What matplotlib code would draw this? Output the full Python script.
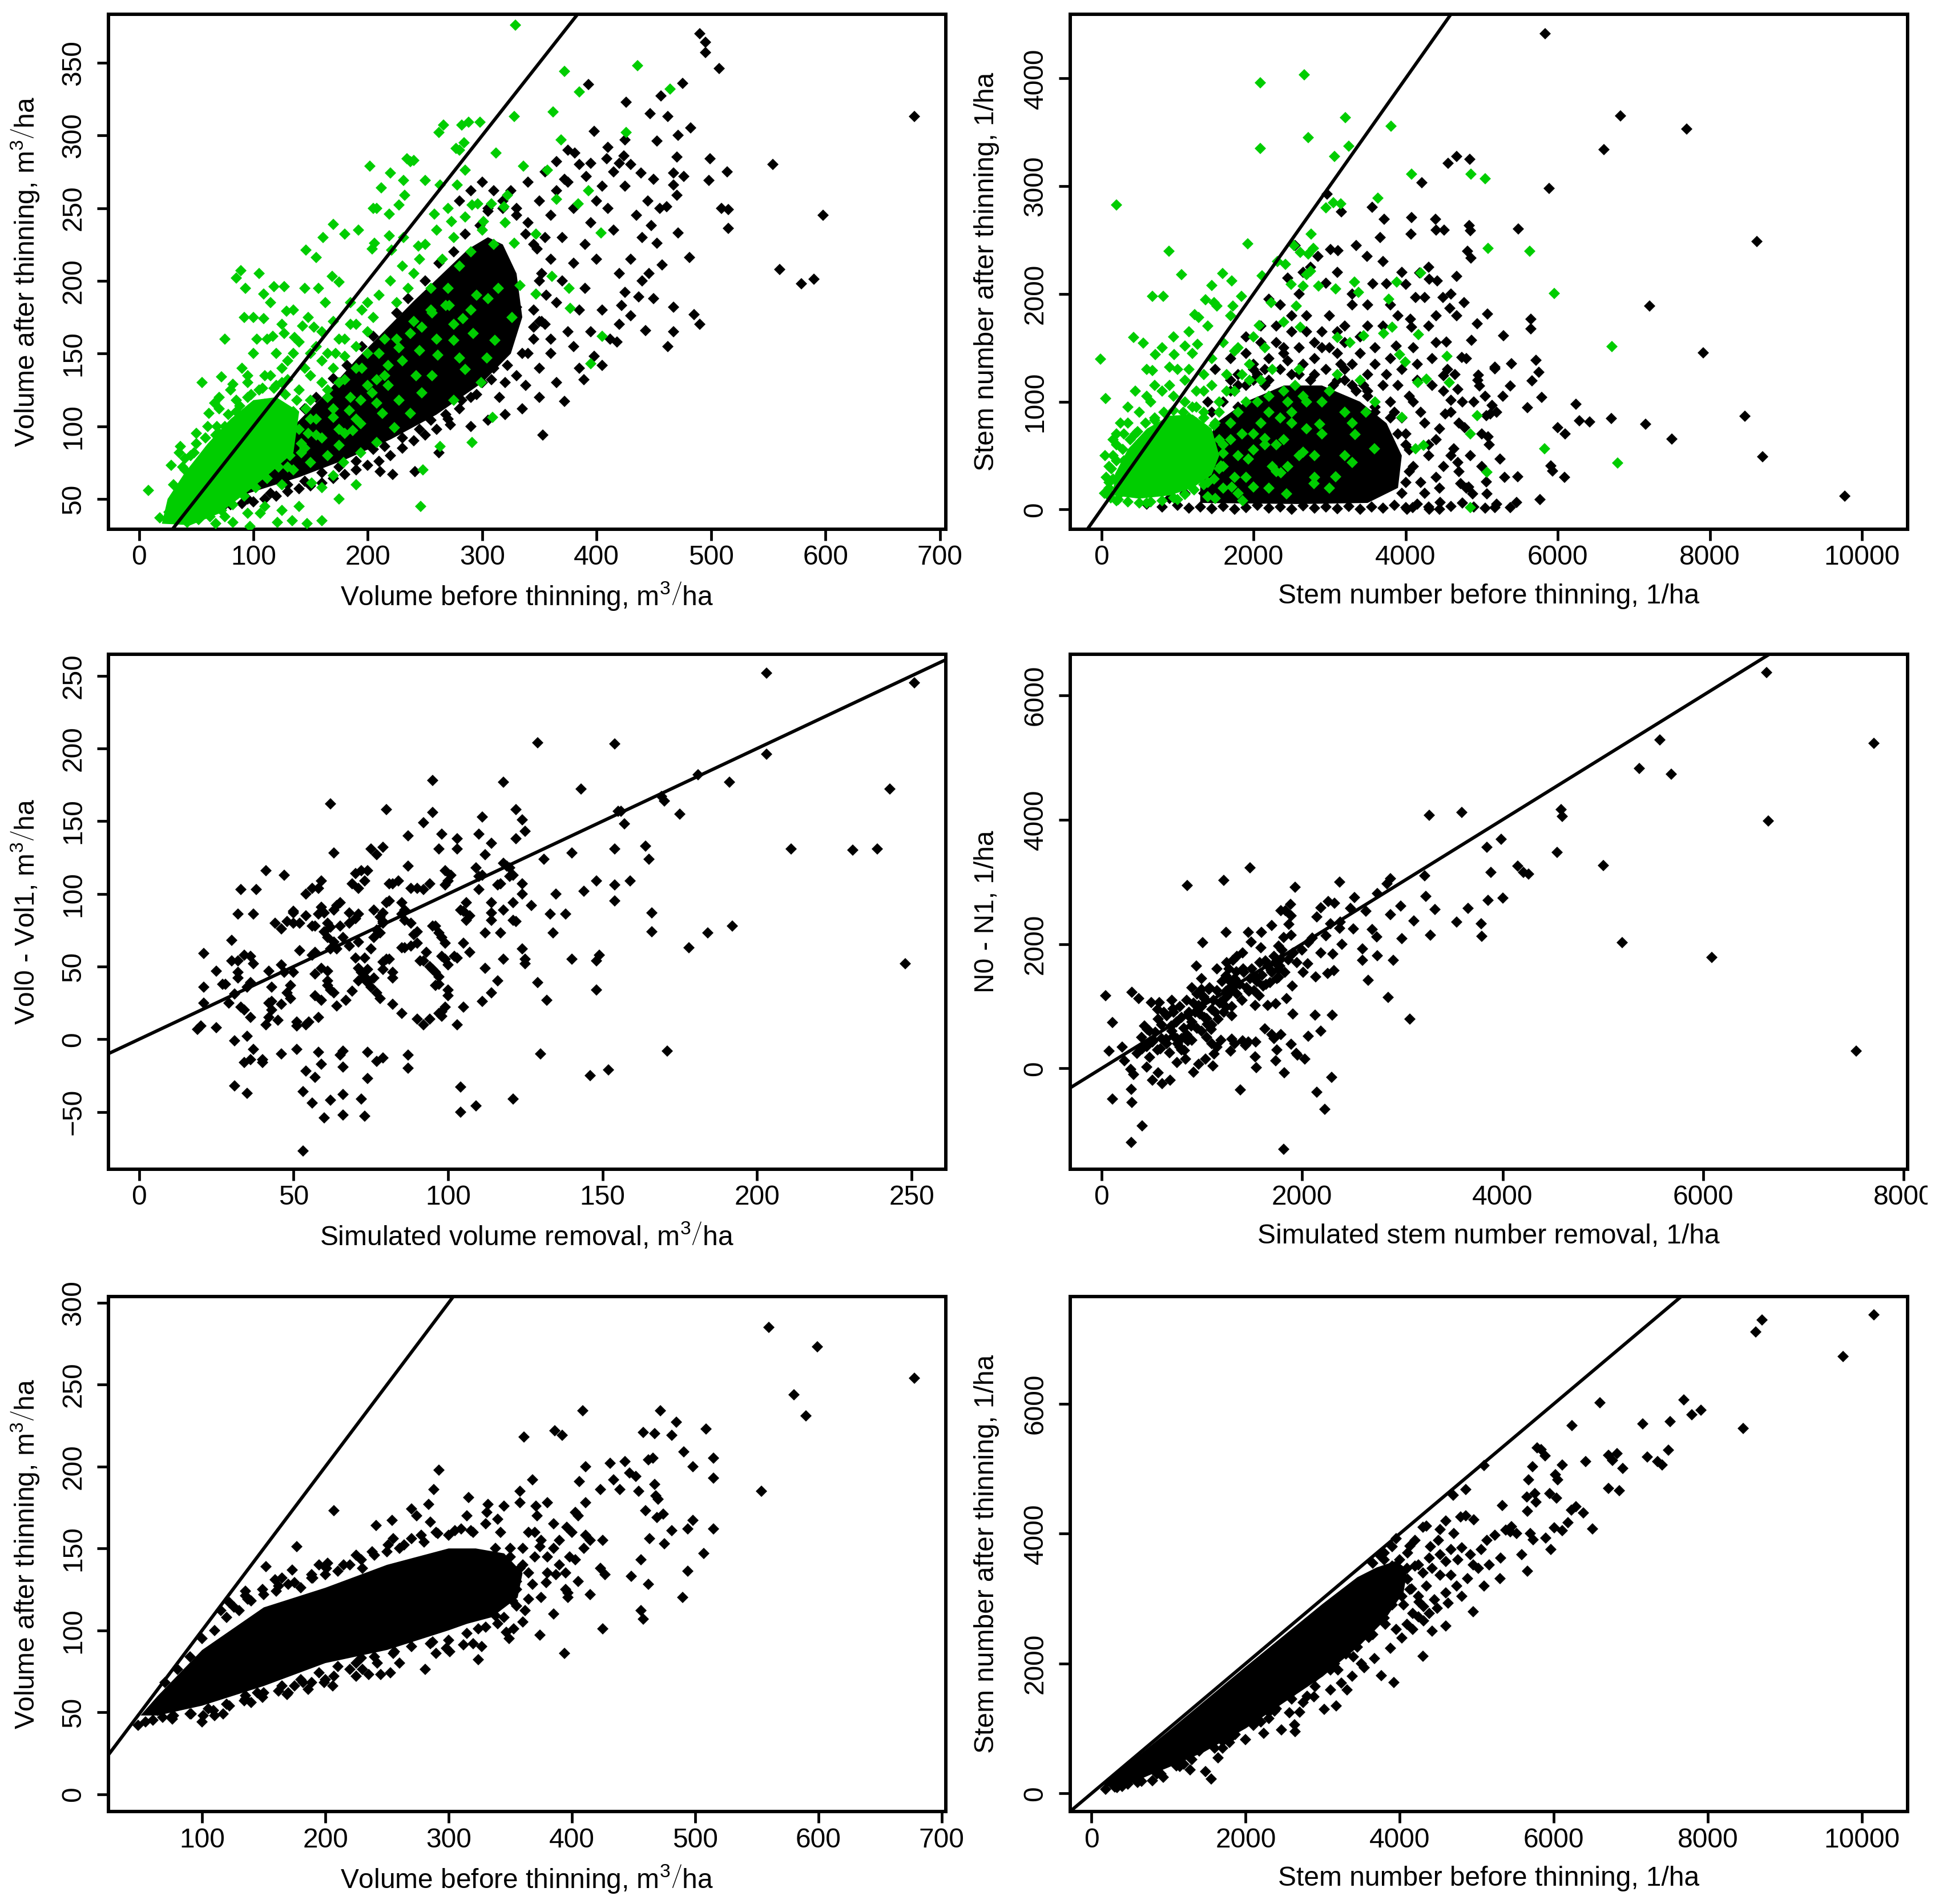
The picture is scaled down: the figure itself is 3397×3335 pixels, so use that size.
import numpy as np
import matplotlib
matplotlib.use("Agg")
import matplotlib.pyplot as plt
from matplotlib import mathtext
from matplotlib.font_manager import FontProperties
from matplotlib.transforms import Bbox, TransformedBbox

plt.rcParams["font.family"] = ["Liberation Sans", "DejaVu Sans"]
plt.rcParams["mathtext.fontset"] = "custom"
plt.rcParams["mathtext.rm"] = "Liberation Sans"
plt.rcParams["mathtext.it"] = "Liberation Sans:italic"
plt.rcParams["mathtext.bf"] = "Liberation Sans:bold"
plt.rcParams["mathtext.sf"] = "Liberation Sans"
plt.rcParams["mathtext.default"] = "regular"

GREEN = "#00CD00"
FS = 34.5

# ---- panel 1: volume before / after thinning (black = observed, green = simulated)
vol1_black_core = [(72, 48), (100, 55), (140, 65), (180, 77), (220, 91), (260, 108), (300, 130), (325, 150),
                   (335, 175), (330, 205), (318, 225), (305, 230), (288, 222), (264, 204), (240, 186), (215, 166),
                   (190, 146), (165, 124), (140, 104), (115, 84), (90, 66), (74, 55)]
vol1_black = [(490, 370), (495, 364), (495, 357), (507, 346), (393, 335), (475, 336), (426, 323), (456, 327),
              (447, 315), (462, 313), (482, 305), (398, 303), (425, 297), (453, 296), (471, 300), (678, 313),
              (499, 284), (470, 285), (554, 280), (514, 275), (498, 269), (439, 274), (467, 274), (476, 272),
              (470, 259), (467, 266), (509, 250), (515, 249), (598, 245), (515, 236), (461, 251), (471, 233),
              (481, 216), (560, 208), (579, 198), (590, 201), (457, 211), (446, 205), (453, 226), (448, 238),
              (437, 189), (450, 188), (422, 183), (430, 176), (467, 182), (485, 177), (490, 170), (443, 166),
              (467, 165), (418, 158), (462, 155), (389, 132), (372, 117), (353, 94), (338, 128), (315, 120),
              (272, 101), (262, 82), (241, 69), (222, 67), (211, 69), (424, 286), (420, 281), (409, 284),
              (395, 281), (381, 288), (391, 272), (372, 270), (330, 250), (340, 240), (350, 255), (355, 230),
              (360, 245), (345, 225), (350, 200), (360, 215), (370, 230), (380, 250), (375, 268), (365, 262),
              (355, 275), (340, 268), (325, 262), (318, 255), (305, 250), (345, 180), (355, 170), (365, 185),
              (370, 200), (380, 212), (390, 225), (395, 240), (400, 255), (405, 265), (410, 250), (415, 235),
              (400, 215), (390, 195), (385, 180), (375, 165), (360, 150), (350, 140), (340, 150), (330, 135),
              (320, 130), (310, 140), (300, 130), (290, 120), (280, 112), (270, 105), (260, 98), (250, 94),
              (240, 90), (230, 85), (220, 80), (210, 76), (200, 73), (190, 70), (180, 67), (170, 64), (160, 61),
              (150, 59), (140, 57), (130, 55), (120, 52), (110, 50), (100, 48), (90, 47), (80, 46), (70, 45),
              (300, 268), (310, 262), (290, 262), (280, 255), (420, 205), (430, 215), (440, 230), (435, 245),
              (445, 255), (425, 265), (415, 275), (430, 280), (410, 292), (385, 280), (375, 290), (365, 282),
              (450, 270), (455, 250), (440, 200), (425, 192), (405, 180), (395, 165), (380, 155), (420, 170),
              (412, 160), (398, 148), (385, 140), (405, 142), (365, 130), (350, 120), (335, 112), (320, 108),
              (305, 104), (290, 100), (360, 160), (345, 168), (330, 182), (315, 195)]
vol1_black_edge = [(80, 66), (95, 75), (105, 80), (120, 92), (130, 100), (145, 112), (155, 120), (170, 133),
                   (182, 142), (195, 155), (205, 162), (225, 178), (235, 188), (250, 200), (262, 212), (275, 220),
                   (285, 232), (298, 238), (305, 248), (318, 250), (330, 245), (338, 232), (348, 222), (352, 205),
                   (356, 190), (350, 172), (75, 46), (95, 50), (115, 54), (130, 60), (145, 62), (160, 68),
                   (175, 72), (190, 76), (205, 84), (215, 86), (230, 92), (245, 98), (255, 104), (268, 108),
                   (282, 118), (295, 122), (308, 132), (322, 142), (335, 150), (345, 160), (352, 172)]
vol1_green_core = [(20, 33), (45, 32), (70, 40), (95, 55), (115, 68), (135, 82), (140, 110), (120, 120),
                   (100, 118), (80, 105), (60, 88), (40, 68), (25, 50)]
vol1_green = [(329, 376), (436, 348), (372, 344), (464, 332), (385, 330), (362, 316), (328, 313), (369, 297),
              (426, 302), (266, 307), (262, 302), (282, 307), (288, 309), (298, 309), (284, 295), (277, 291),
              (280, 290), (312, 288), (234, 284), (237, 282), (240, 283), (202, 279), (285, 276), (220, 274),
              (231, 269), (250, 269), (212, 264), (263, 266), (278, 266), (336, 279), (357, 276), (393, 262),
              (365, 256), (232, 259), (205, 250), (208, 250), (227, 252), (219, 246), (258, 246), (192, 235),
              (180, 232), (170, 239), (161, 230), (146, 221), (155, 216), (206, 226), (204, 222), (219, 231),
              (221, 221), (231, 230), (244, 224), (273, 241), (285, 244), (301, 241), (291, 252), (296, 253),
              (308, 253), (319, 251), (85, 202), (89, 207), (93, 195), (109, 191), (118, 196), (127, 196),
              (145, 195), (157, 195), (163, 185), (169, 203), (175, 199), (92, 175), (100, 175), (109, 174),
              (129, 179), (143, 169), (103, 160), (117, 162), (127, 164), (136, 161), (153, 168), (72, 134),
              (82, 129), (95, 135), (66, 116), (61, 109), (67, 94), (36, 86), (35, 82), (28, 73), (8, 56),
              (18, 37), (26, 41), (246, 45), (160, 35), (147, 33), (134, 35), (121, 34), (106, 40), (97, 31),
              (82, 34), (67, 33), (291, 89), (309, 106), (263, 86), (248, 70), (395, 143), (405, 162), (376, 195),
              (361, 203), (377, 181), (347, 191), (404, 233), (384, 253), (322, 259), (347, 232), (328, 226),
              (208, 132), (218, 142), (227, 154), (237, 164), (247, 168), (256, 178), (271, 183), (283, 174),
              (292, 164), (280, 147), (299, 130), (275, 118), (256, 135), (247, 123), (237, 109), (223, 99),
              (208, 89), (194, 82), (179, 75), (170, 66), (160, 58), (151, 61), (142, 82), (155, 94), (170, 106),
              (184, 111), (194, 118), (204, 123), (187, 97), (175, 87), (194, 102), (213, 109), (227, 118),
              (242, 135), (261, 149), (275, 159), (268, 183), (295, 190), (314, 195), (333, 197), (326, 175),
              (311, 159), (304, 147), (285, 139), (218, 128), (208, 116), (120, 150), (130, 145), (140, 158),
              (150, 150), (160, 145), (172, 150), (180, 160), (190, 170), (200, 185), (185, 185), (170, 172),
              (160, 165), (148, 175), (135, 180), (125, 170), (112, 160), (100, 150), (90, 140), (80, 125),
              (70, 120), (60, 100), (50, 95), (45, 80), (40, 70), (115, 185), (105, 205), (75, 160), (55, 130),
              (190, 140), (200, 150), (175, 130), (165, 120), (180, 95), (165, 80), (150, 75), (135, 70),
              (125, 60), (110, 45), (95, 40), (75, 38), (55, 40), (40, 45), (30, 50), (125, 42), (140, 45),
              (175, 50), (190, 60), (60, 75), (65, 85), (70, 95), (75, 100), (80, 90), (85, 110), (90, 100),
              (95, 120), (100, 110), (105, 125), (110, 115), (115, 135), (120, 128), (125, 140), (130, 132),
              (135, 150), (140, 125), (145, 140), (150, 135), (155, 155), (160, 130), (165, 150), (170, 140),
              (175, 160), (180, 148), (185, 170), (190, 155), (195, 180), (200, 165), (205, 175), (210, 190),
              (215, 160), (220, 200), (225, 185), (230, 210), (235, 195), (240, 205), (245, 215), (250, 225),
              (255, 195), (260, 235), (265, 215), (270, 250), (275, 230), (280, 210), (290, 220), (300, 235),
              (310, 225), (320, 240), (105, 95), (120, 100), (135, 110), (150, 118), (165, 125), (180, 132),
              (195, 140), (210, 150), (225, 160), (240, 172), (255, 180), (270, 195), (90, 80), (75, 70),
              (110, 85), (125, 92), (140, 98), (155, 105), (170, 112), (185, 120), (200, 128), (215, 135),
              (230, 145), (245, 152), (260, 160), (275, 170), (290, 180), (305, 188), (45, 60), (50, 70),
              (55, 55), (35, 55), (30, 42), (60, 45), (85, 60), (100, 70), (115, 78), (130, 72), (145, 85),
              (160, 92), (175, 98), (190, 105)]
vol1_green_edge = [(30, 60), (38, 72), (48, 82), (58, 92), (68, 100), (78, 108), (88, 114), (98, 122), (108, 126),
                   (118, 126), (128, 122), (138, 118), (146, 112), (150, 105), (148, 95), (142, 88), (132, 80),
                   (122, 72), (112, 64), (102, 58), (92, 52), (82, 46), (72, 42), (62, 38), (52, 36), (42, 34),
                   (32, 36), (85, 118), (95, 130), (110, 135), (125, 130), (70, 112), (50, 88), (40, 78)]

# ---- panel 2: stem number before / after thinning
stem1_black_core = [(1300, 60), (2600, 50), (3500, 60), (3900, 200), (3950, 500), (3750, 800), (3400, 1000),
                    (2900, 1150), (2400, 1150), (1900, 1000), (1500, 800), (1300, 400)]
stem1_black = [(5836, 4413), (6823, 3655), (7695, 3532), (6607, 3342), (5886, 2977), (8617, 2484), (7205, 1887),
               (7911, 1452), (9777, 123), (8696, 490), (8458, 865), (7500, 652), (7154, 790), (6707, 845),
               (6239, 974), (6095, 700), (6001, 758), (6282, 823), (6419, 813), (6088, 297), (5793, 1039),
               (5749, 1274), (5713, 1387), (5663, 1194), (5605, 945), (5476, 306), (5461, 65), (5375, 16),
               (5908, 403), (5929, 355), (5764, 90), (5483, 2603), (5648, 1765), (5648, 1677), (5288, 1613),
               (5389, 1355), (5173, 1323), (5115, 887), (5086, 677), (5245, 468), (5173, 16), (4560, 3210),
               (4669, 3274), (4841, 3252), (4215, 3032), (3559, 2806), (3718, 2694), (4078, 2710), (4070, 2558),
               (3667, 2523), (4395, 2694), (4402, 2590), (4510, 2590), (4834, 2635), (4849, 2587), (4813, 2397),
               (4856, 2332), (3494, 2348), (2968, 2929), (3156, 2761), (3012, 2413), (3112, 2403), (4301, 2248),
               (4186, 2194), (4308, 2135), (4416, 2119), (4669, 2161), (4006, 2087), (3746, 2097), (3566, 2097),
               (4128, 1968), (4251, 1968), (4488, 1968), (4769, 1919), (5079, 1816), (4942, 1726), (4669, 1797),
               (4582, 1865), (4063, 1765), (4078, 1694), (3876, 1516), (4539, 1555), (4870, 1571), (4741, 1410),
               (4957, 1248), (5173, 1306), (4971, 1145), (5050, 1048), (5137, 968), (5065, 871), (5281, 1048),
               (5375, 1145), (4496, 1242), (4683, 1113), (4597, 1016), (4524, 887), (4777, 758), (4632, 565),
               (4683, 435), (4827, 210), (4885, 145), (4726, 242), (4452, 65), (4308, 0), (4092, 16), (4020, 0),
               (5072, 145), (5065, 258), (600, 50), (800, 20), (1000, 40), (1150, 10), (1300, 20), (1450, 5),
               (1600, 30), (1750, 0), (1900, 15), (2050, 40), (2200, 10), (2350, 25), (2500, 0), (2650, 35),
               (2800, 10), (2950, 20), (3100, 5), (3250, 30), (3400, 0), (3550, 20), (3700, 10), (3850, 40),
               (4000, 15), (4150, 50), (4300, 20), (4450, 0), (4600, 30), (4750, 60), (4900, 20), (5050, 10),
               (5200, 50), (4000, 700), (4100, 400), (4200, 900), (4300, 600), (4400, 300), (4500, 1100),
               (4600, 500), (4700, 800), (4800, 200), (4900, 1000), (5000, 400), (4150, 1200), (4350, 1400),
               (4050, 1050), (3950, 1300), (4250, 150), (4450, 750), (4650, 1250), (4100, 1500), (4300, 1700),
               (3900, 1800), (4400, 1550), (1500, 1300), (1700, 1400), (1900, 1600), (2100, 1700), (2300, 1550),
               (2500, 1800), (2700, 1650), (2900, 1500), (3100, 1450), (3300, 1350), (3500, 1250), (3700, 1150),
               (2200, 1950), (2600, 2000), (3000, 1800), (3400, 1600), (2400, 1500), (2800, 1400), (3200, 1700),
               (3600, 1500), (2000, 1300), (1800, 1150), (2450, 2150), (2750, 2250), (2950, 2100), (3300, 2000),
               (3500, 1900), (3700, 2300), (3350, 2450), (2850, 2350), (2550, 2450), (3800, 1900), (3950, 2200),
               (1200, 300), (1300, 500), (1250, 800), (1400, 1000), (1350, 150), (900, 100), (1100, 150)]
stem1_black_edge = [(4200, 250), (4300, 500), (4250, 800), (4100, 1000), (3900, 1150), (4400, 650), (4500, 400),
                    (4600, 900), (4350, 1150), (4150, 1350), (3800, 1400), (3600, 1350), (3400, 1450),
                    (3200, 1550), (3000, 1500), (2800, 1550), (2600, 1500), (2400, 1450), (2200, 1400),
                    (2000, 1350), (1800, 1250), (2900, 1650), (2500, 1650), (3100, 1650), (3500, 1700),
                    (2700, 1800), (2300, 1700), (2100, 1550), (1900, 1450), (4450, 200), (4700, 350), (4850, 500),
                    (4550, 1300), (4750, 1000), (5000, 700), (5200, 900), (5300, 300), (5100, 600), (4950, 1200),
                    (4800, 1400), (4400, 1800), (4600, 2000), (3700, 1700), (3300, 1900), (3100, 2200),
                    (2650, 2200), (2350, 1900), (3950, 150), (4050, 550), (3850, 900), (3500, 1100), (3100, 1200),
                    (2600, 1250), (2150, 1150), (1800, 950), (1600, 700), (1500, 450), (1550, 150), (3600, 950),
                    (3950, 850), (3750, 1250), (3300, 1150), (1700, 1100), (2000, 1200), (2800, 1250), (3200, 1300),
                    (1350, 650), (1450, 900), (1600, 1000), (1750, 1100), (1900, 1150), (2050, 1250), (2200, 1200),
                    (2350, 1300), (2500, 1250), (2650, 1350), (2750, 1200), (2950, 1300), (3050, 1150), (3200, 1200),
                    (3350, 1100), (3500, 1050), (3600, 900), (3800, 850), (3900, 700), (4000, 600), (4050, 350),
                    (4000, 250), (3800, 1000), (3450, 1150), (3150, 1350), (2450, 1380), (2150, 1300), (1700, 1200),
                    (1250, 600), (1220, 450)]
stem1_green_core = [(150, 130), (500, 100), (900, 130), (1200, 200), (1450, 320), (1550, 500), (1450, 750),
                    (1200, 880), (900, 870), (600, 750), (350, 560), (180, 330)]
stem1_green = [(2666, 4032), (2089, 3961), (2089, 3352), (2723, 3452), (3206, 3635), (3811, 3558), (3256, 3371),
               (3062, 3274), (202, 2826), (4078, 3113), (4856, 3113), (5043, 3071), (3638, 2887), (2954, 2797),
               (3048, 2845), (3148, 2839), (5086, 2423), (5634, 2397), (5958, 2006), (6715, 1510), (6787, 429),
               (5829, 565), (5072, 345), (4849, 700), (4942, 871), (4849, 16), (1924, 2465), (886, 2394),
               (1052, 2177), (670, 1977), (814, 1977), (1455, 2081), (1592, 2190), (1715, 2119), (1369, 1945),
               (1484, 1919), (1729, 1887), (1844, 1977), (2111, 2168), (2313, 2300), (2421, 2274), (2536, 2448),
               (2615, 2387), (2759, 2555), (2788, 2423), (2723, 2371), (2695, 2177), (2752, 2213), (2651, 2071),
               (2853, 2071), (2493, 2087), (3084, 2048), (3329, 2113), (3379, 2016), (3883, 2113), (4200, 2194),
               (3782, 1952), (3826, 1694), (4171, 1623), (-14, 1394), (58, 1029), (425, 1597), (548, 1542),
               (706, 1435), (958, 1435), (1102, 1516), (1268, 1532), (670, 1290), (900, 1323), (1153, 1300),
               (1225, 1806), (1282, 1784), (1520, 1887), (1751, 1468), (2075, 1710), (2233, 1919), (2399, 1742),
               (2565, 1887), (2615, 1694), (3105, 1597), (3271, 1548), (3451, 1613), (3710, 1635), (3919, 1435),
               (3998, 1371), (4164, 1177), (4546, 1419), (4575, 1177), (4272, 1210), (3948, 855), (4128, 565),
               (4236, 597), (3336, 694), (3480, 903), (3588, 565), (3300, 435), (3084, 306), (2867, 790),
               (2651, 532), (2795, 242), (2435, 145), (2363, 339), (2147, 661), (1931, 468), (2003, 210),
               (1859, 81), (1715, 210), (1571, 403), (1600, 600), (1700, 800), (1800, 500), (1900, 1000),
               (2000, 700), (2100, 1200), (2200, 900), (2300, 600), (2400, 1100), (2500, 800), (2600, 1300),
               (1650, 1100), (1750, 300), (1550, 900), (1450, 1150), (1350, 1250), (2250, 400), (2450, 1000),
               (2700, 1000), (2900, 700), (3000, 1100), (3200, 900), (2800, 500), (3400, 1200), (3600, 1000),
               (1950, 1350), (2150, 1500), (1850, 1250), (1250, 1100), (1100, 1000), (950, 1050), (800, 1100),
               (650, 1000), (500, 900), (350, 800), (300, 700), (200, 600), (150, 500), (100, 400), (100, 200),
               (250, 150), (1600, 200), (1500, 100), (1400, 250), (1200, 200), (1300, 350), (1400, 600),
               (1500, 800), (1600, 400), (1700, 650), (1800, 900), (1900, 300), (2000, 550), (2100, 800),
               (2200, 1050), (2300, 350), (2400, 650), (2500, 900), (2600, 500), (2700, 750), (1250, 950),
               (1350, 1100), (1550, 1000), (1650, 1250), (1750, 1100), (1850, 700), (1950, 1200), (2050, 1000),
               (2150, 600), (2250, 1300), (2350, 850), (2450, 400), (2550, 1150), (2650, 1050), (1150, 700),
               (1050, 500), (950, 300), (850, 550), (750, 750), (650, 450), (1100, 1200), (1000, 1300),
               (900, 1150), (700, 1150), (600, 1050), (1450, 1400), (1600, 1550), (1200, 1450), (1800, 1500),
               (2000, 1600), (1700, 1800), (1400, 1700), (1150, 1650), (950, 1600), (800, 1500), (600, 1300),
               (450, 1100), (350, 950), (250, 800), (200, 700), (150, 650), (50, 500), (60, 300), (40, 150),
               (200, 80), (600, 60), (1000, 90), (2800, 300), (3000, 200), (3200, 500), (2900, 1000), (3100, 1250),
               (3300, 800), (2200, 200), (1800, 150), (1400, 120), (1300, 700), (1150, 850), (950, 800), (700, 850),
               (450, 700), (300, 450), (150, 280), (1250, 450), (1350, 900)]
stem1_green_edge = [(100, 250), (130, 380), (200, 450), (280, 560), (380, 650), (480, 720), (580, 800), (700, 830),
                    (820, 900), (950, 920), (1080, 900), (1200, 950), (1350, 850), (1480, 780), (1550, 650),
                    (1600, 520), (1550, 380), (1480, 280), (1350, 230), (1220, 180), (1100, 140), (950, 110),
                    (800, 80), (650, 70), (500, 60), (350, 70), (220, 90), (120, 110), (80, 170)]

# ---- panel 3: simulated volume removal vs observed Vol0 - Vol1
vol_removal = [(203, 252), (251, 245), (129, 204), (154, 203), (203, 196), (181, 182), (191, 177), (243, 172),
               (143, 172), (170, 164), (169, 167), (175, 155), (155, 157), (156, 157), (157, 148), (118, 177),
               (95, 178), (62, 162), (80, 158), (95, 156), (111, 153), (122, 158), (124, 151), (125, 143),
               (122, 138), (92, 149), (87, 140), (98, 141), (103, 138), (103, 131), (110, 141), (114, 135),
               (112, 127), (97, 131), (75, 131), (77, 127), (79, 132), (63, 128), (140, 128), (131, 124),
               (164, 133), (165, 124), (211, 131), (231, 130), (239, 131), (154, 131), (159, 109), (154, 106),
               (154, 95), (148, 109), (144, 102), (135, 100), (138, 86), (133, 86), (134, 73), (166, 87),
               (166, 74), (192, 78), (184, 73), (178, 63), (140, 55), (149, 58), (148, 54), (148, 34), (248, 52),
               (132, 27), (129, 39), (171, -8), (130, -10), (146, -25), (152, -21), (104, -33), (104, -50),
               (109, -46), (121, -41), (53, -77), (60, -54), (66, -52), (73, -53), (72, -41), (62, -42), (56, -44),
               (53, -36), (66, -38), (35, -37), (31, -32), (74, -27), (87, -20), (87, -11), (77, -15), (79, -13),
               (74, -9), (66, -19), (66, -8), (65, -11), (57, -26), (59, -17), (58, -9), (54, -22), (51, -7),
               (46, -10), (40, -14), (40, -16), (36, -14), (34, -16), (37, -7), (35, 2), (31, -1), (19, 7),
               (20, 9), (25, 8), (21, 25), (21, 36), (21, 59), (25, 47), (27, 38), (28, 38), (29, 25), (31, 31),
               (30, 68), (30, 54), (32, 54), (32, 46), (32, 42), (32, 86), (33, 103), (38, 103), (37, 86),
               (41, 116), (47, 113), (34, 58), (36, 57), (35, 36), (36, 39), (37, 52), (42, 47), (46, 51),
               (43, 36), (42, 25), (43, 26), (46, 24), (43, 20), (33, 22), (34, 20), (36, 15), (41, 10), (42, 15),
               (45, 13), (49, 28), (51, 12), (51, 9), (54, 10), (55, 12), (58, 15), (48, 32), (49, 37), (50, 46),
               (47, 46), (52, 61), (50, 80), (50, 87), (48, 81), (46, 76), (44, 80), (50, 88), (52, 80), (54, 85),
               (56, 78), (57, 78), (58, 86), (54, 100), (56, 104), (58, 104), (59, 109), (59, 91), (60, 87),
               (61, 80), (60, 74), (61, 70), (62, 77), (63, 89), (64, 92), (65, 94), (57, 60), (56, 58), (59, 49),
               (57, 45), (61, 47), (61, 40), (61, 37), (62, 34), (59, 27), (57, 30), (63, 32), (67, 27), (64, 23),
               (69, 33), (64, 62), (62, 62), (63, 67), (66, 70), (65, 78), (68, 87), (68, 80), (70, 83), (71, 86),
               (68, 64), (70, 56), (71, 67), (69, 107), (70, 114), (71, 104), (73, 109), (72, 116), (74, 116),
               (71, 49), (72, 46), (71, 40), (73, 43), (74, 39), (75, 36), (76, 42), (74, 48), (73, 56), (75, 62),
               (76, 70), (78, 73), (77, 75), (78, 84), (79, 81), (79, 80), (76, 89), (79, 87), (80, 94), (81, 95),
               (80, 55), (79, 53), (81, 55), (79, 48), (82, 46), (82, 42), (77, 32), (78, 28), (82, 24), (85, 18),
               (90, 14), (92, 10), (85, 86), (86, 89), (85, 94), (82, 107), (84, 109), (81, 107), (87, 119),
               (88, 104), (90, 104), (92, 103), (94, 107), (86, 82), (88, 80), (90, 74), (89, 72), (85, 63),
               (86, 63), (88, 64), (90, 66), (91, 54), (92, 54), (93, 60), (94, 50), (95, 48), (96, 46), (97, 43),
               (96, 37), (97, 38), (95, 78), (96, 78), (97, 73), (98, 70), (99, 66), (98, 57), (99, 55),
               (100, 51), (100, 34), (97, 18), (98, 19), (99, 106), (100, 109), (101, 113), (99, 116), (104, 89),
               (105, 88), (106, 82), (105, 66), (107, 60), (102, 57), (103, 56), (103, 10), (105, 22), (107, 85),
               (106, 94), (109, 118), (110, 112), (111, 113), (110, 103), (114, 94), (114, 82), (114, 87),
               (112, 73), (117, 73), (118, 55), (112, 49), (116, 40), (114, 32), (111, 26), (116, 106), (117, 107),
               (118, 89), (121, 94), (121, 82), (118, 121), (119, 119), (120, 118), (120, 112), (121, 113),
               (122, 81), (124, 62), (125, 55), (125, 52), (127, 92), (124, 107), (124, 100), (99, 22), (98, 16),
               (94, 14), (100, 30)]

# ---- panel 4: simulated stem number removal vs observed N0 - N1
stem_removal = [(6630, 6369), (7701, 5223), (5565, 5279), (5363, 4821), (5680, 4732), (6647, 3978), (4582, 4162),
                (4593, 4050), (4544, 3475), (5003, 3263), (4260, 3128), (4205, 3156), (4151, 3251), (5194, 2022),
                (6084, 1788), (7526, 279), (3266, 4073), (3594, 4117), (3845, 3559), (3987, 3687), (3883, 3156),
                (3222, 3101), (3856, 2704), (4003, 2737), (3654, 2570), (3785, 2330), (3791, 2123), (3539, 2358),
                (3282, 2145), (3113, 2369), (2998, 2089), (2911, 1743), (2857, 1140), (3075, 793), (3326, 2553),
                (3233, 2771), (2982, 2609), (2884, 2469), (2846, 2972), (2879, 3056), (2753, 2816), (2638, 2525),
                (2698, 2235), (2747, 2117), (2600, 1922), (2600, 1743), (2660, 1419), (2753, 1810), (2523, 2749),
                (2376, 2994), (2321, 2654), (2261, 2682), (2190, 2581), (2485, 2570), (2512, 2246), (2376, 2257),
                (2381, 2358), (2283, 2330), (2146, 2441), (2239, 2134), (2185, 1855), (2305, 1844), (2316, 1575),
                (2256, 1531), (2135, 1475), (2064, 2022), (2054, 1687), (2010, 1547), (1933, 2916), (1884, 2637),
                (1890, 2453), (1835, 2536), (1791, 2536), (1868, 2313), (1890, 2145), (1819, 2106), (1912, 1855),
                (1764, 1966), (1791, 1754), (1731, 1698), (1693, 1575), (1764, 1592), (1638, 1732), (1589, 1939),
                (1595, 2190), (1491, 2034), (1464, 2190), (1546, 1464), (1611, 1324), (1682, 1380), (1764, 1464),
                (1660, 1017), (1737, 1045), (1573, 1173), (1535, 1017), (1469, 1240), (1409, 1855), (1415, 1603),
                (1344, 1559), (1327, 1324), (1300, 1240), (1245, 2190), (1218, 3028), (1480, 3229), (1311, 1743),
                (1273, 1603), (1245, 1492), (1278, 1408), (1245, 1240), (1191, 1073), (1245, 989), (1300, 849),
                (44, 1173), (109, 737), (77, 279), (109, -492), (306, -547), (300, -1190), (404, -927), (300, -335),
                (306, 1223), (371, 1128), (497, 1056), (579, 1056), (208, 346), (230, 123), (290, -17), (322, -101),
                (355, 246), (404, 318), (426, 682), (459, 626), (508, 430), (535, 581), (563, 793), (481, 179),
                (508, -184), (606, -240), (683, -184), (563, -73), (453, 22), (590, 318), (645, 469), (699, 682),
                (716, 961), (754, 486), (797, 486), (836, 486), (781, 346), (825, 291), (863, 441), (754, 95),
                (836, 151), (918, -56), (972, 67), (863, 860), (896, 682), (934, 905), (972, 1017), (945, 1648),
                (1010, 2022), (858, 2944), (1027, 821), (1054, 709), (1092, 626), (1098, 402), (1038, 151),
                (1109, 39), (1125, 235), (1152, 346), (1191, 458), (999, 1268), (1070, 1268), (1027, 1128),
                (1136, 905), (1163, 793), (1382, -341), (1300, 469), (1327, 402), (1289, 279), (1409, 441),
                (1436, 374), (1464, 430), (1540, 430), (1535, 190), (1546, 11), (1627, 637), (1699, 542),
                (1720, 486), (1748, 302), (1737, 123), (1791, 542), (1824, -73), (1819, -1302), (1890, 391),
                (1944, 246), (1955, 218), (2026, 151), (2064, 514), (2130, 860), (2146, -380), (2185, 598),
                (2228, -659), (2299, 860), (2294, -145), (1906, 877), (1900, 1324), (1846, 1128), (600, 700),
                (650, 850), (700, 600), (720, 900), (750, 750), (780, 1000), (800, 820), (820, 650), (850, 1100),
                (870, 900), (900, 750), (920, 1050), (950, 1200), (980, 880), (1000, 1000), (1020, 1150),
                (1050, 800), (1080, 1300), (1100, 950), (1120, 1100), (1150, 1250), (1180, 1050), (1200, 1400),
                (1220, 900), (1250, 1150), (1280, 1300), (1300, 1000), (1330, 1450), (1350, 1200), (1380, 1350),
                (1400, 1100), (1420, 1550), (1450, 1300), (1480, 1450), (1500, 1600), (1520, 1250), (1550, 1400),
                (1580, 1700), (1600, 1500), (1640, 1350), (1660, 1650), (1700, 1550), (1720, 1800), (1750, 1450),
                (1780, 1650), (1800, 1900), (1830, 1550), (1860, 1750), (1900, 1850), (1950, 1700), (400, 500),
                (450, 350), (480, 600), (520, 450), (560, 300), (600, 480), (650, 400), (680, 250), (720, 520),
                (760, 400), (800, 300), (850, 550), (900, 450), (950, 650), (1000, 600), (1050, 500), (1100, 700),
                (620, 900), (700, 1100), (560, 950), (900, 1300), (1000, 1450), (1150, 1600), (1250, 1700),
                (1350, 1800), (2000, 1900), (2100, 2100), (1700, 2300), (2400, 2000)]

# ---- panel 5: volume before / after thinning, second data set
vol2_core = [(50, 48), (64, 60), (100, 88), (150, 114), (200, 126), (250, 140), (300, 150), (322, 150),
             (345, 147), (360, 135), (356, 120), (335, 108), (315, 104), (300, 100), (250, 88), (200, 80),
             (150, 66), (100, 54), (64, 48)]
vol2 = [(560, 285), (599, 273), (678, 254), (580, 244), (590, 231), (554, 185), (409, 234), (472, 234), (485, 227),
        (509, 223), (458, 221), (467, 220), (481, 219), (386, 222), (392, 219), (361, 218), (491, 209), (515, 205),
        (466, 205), (462, 204), (498, 200), (515, 193), (443, 203), (431, 202), (411, 200), (406, 191), (447, 196),
        (452, 194), (439, 186), (454, 185), (467, 189), (468, 182), (470, 180), (460, 173), (474, 171), (469, 169),
        (481, 161), (494, 162), (498, 167), (515, 162), (507, 147), (494, 136), (490, 120), (463, 156), (475, 153),
        (456, 143), (462, 128), (448, 133), (456, 112), (458, 107), (425, 101), (394, 86), (374, 97), (292, 198),
        (316, 181), (288, 186), (284, 177), (270, 174), (274, 170), (254, 167), (241, 164), (207, 173), (177, 151),
        (152, 139), (173, 137), (159, 131), (189, 134), (201, 138), (126, 114), (137, 119), (368, 192), (358, 185),
        (332, 177), (281, 76), (324, 82), (253, 74), (245, 73), (235, 73), (225, 72), (206, 66), (199, 68),
        (186, 64), (182, 68), (169, 61), (145, 62), (134, 57), (117, 49), (100, 44), (101, 48), (76, 46), (68, 47),
        (54, 44), (48, 42), (349, 95), (347, 99), (340, 104), (353, 101), (338, 109), (362, 112), (365, 119),
        (324, 101), (327, 90), (312, 91), (301, 87), (298, 89), (287, 93), (379, 129), (387, 134), (398, 145),
        (403, 143), (396, 163), (403, 172), (411, 178), (423, 186), (434, 192), (411, 158), (415, 155), (425, 155),
        (423, 138), (427, 134), (397, 123), (397, 120), (415, 122), (374, 151), (269, 95), (256, 87), (242, 80),
        (229, 83), (220, 76), (207, 72), (189, 68), (175, 66), (162, 63), (149, 59), (135, 58), (122, 54),
        (109, 51), (91, 49), (77, 48), (64, 51), (122, 117), (135, 121), (149, 125), (162, 127), (175, 129),
        (189, 132), (202, 141), (215, 140), (229, 143), (238, 148), (251, 152), (264, 152), (278, 158), (291, 159),
        (305, 161), (318, 161), (331, 172), (345, 176), (358, 178), (371, 176), (380, 178), (350, 150), (360, 140),
        (370, 160), (380, 145), (390, 155), (355, 125), (365, 135), (375, 120), (385, 110), (345, 130), (335, 145),
        (340, 115), (360, 105), (372, 170), (385, 165), (395, 135), (405, 130), (410, 150)]
vol2_edge = [(70, 68), (80, 76), (90, 84), (100, 95), (110, 100), (120, 108), (130, 112), (140, 118), (150, 122),
             (160, 124), (170, 128), (180, 126), (190, 132), (200, 134), (210, 136), (220, 140), (230, 138),
             (240, 146), (250, 148), (260, 150), (270, 156), (280, 154), (290, 160), (300, 158), (310, 162),
             (320, 160), (330, 165), (340, 168), (115, 112), (135, 124), (165, 132), (195, 140), (225, 146),
             (255, 156), (285, 166), (315, 170), (60, 45), (75, 47), (90, 49), (105, 52), (120, 55), (135, 60),
             (150, 62), (165, 66), (180, 70), (195, 74), (210, 78), (225, 80), (240, 84), (255, 86), (270, 90),
             (285, 92), (300, 94), (315, 98), (330, 102), (345, 108), (355, 115), (110, 48), (140, 56), (170, 62),
             (200, 70), (230, 76), (260, 80), (290, 86), (320, 92), (340, 120), (345, 135), (350, 145), (338, 150),
             (342, 160), (355, 130), (360, 150), (365, 160), (348, 125), (352, 118), (358, 138), (370, 145),
             (375, 155), (368, 128), (380, 135), (385, 150), (390, 140), (395, 125), (400, 160), (405, 170),
             (330, 140), (335, 128)]

# ---- panel 6: stem number before / after thinning, second data set
stem2_core = [(150, 140), (1000, 960), (2000, 1950), (3000, 2920), (3450, 3330), (3700, 3480), (3950, 3580),
              (4100, 3450), (4050, 3100), (3850, 2750), (3750, 2600), (3500, 2300), (3250, 2050), (3000, 1800),
              (2500, 1400), (2000, 1000), (1465, 640), (1000, 400), (750, 280), (500, 150), (250, 90)]
stem2 = [(10156, 7375), (8706, 7295), (8620, 7108), (9758, 6733), (6600, 6015), (7688, 6058), (7909, 5903),
         (7795, 5833), (8457, 5619), (6238, 5662), (7155, 5688), (7511, 5726), (5782, 5324), (5839, 5297),
         (5889, 5196), (5092, 5046), (5725, 5035), (6110, 5056), (6415, 5115), (6707, 5206), (6764, 5126),
         (6821, 5233), (6892, 5008), (7212, 5179), (7347, 5115), (7404, 5056), (7489, 5287), (6707, 4697),
         (6849, 4665), (6017, 4912), (6053, 4831), (5676, 4831), (6287, 4419), (6230, 4360), (6387, 4322),
         (6501, 4071), (5946, 4616), (6039, 4553), (5754, 4616), (5647, 4563), (5661, 4349), (5768, 4483),
         (6181, 4173), (6003, 4092), (6110, 4044), (5960, 3760), (5896, 3937), (5732, 3910), (5697, 4001),
         (5661, 3423), (5583, 3680), (5434, 4028), (5334, 4430), (4858, 4280), (4964, 4215), (4794, 4258),
         (4694, 4590), (4858, 4681), (4346, 4119), (4523, 4065), (3954, 3921), (4132, 3814), (4950, 2796),
         (5299, 3305), (3926, 1709), (3762, 1816), (4303, 2116), (3535, 1939), (3314, 1591), (3172, 1350),
         (3023, 1296), (2639, 948), (2632, 1055), (2461, 975), (2568, 1243), (2376, 1269), (2233, 921), (2000, 825),
         (1863, 905), (1792, 787), (1643, 546), (1550, 225), (1479, 332), (1280, 359), (1145, 412), (932, 252),
         (789, 198), (597, 171), (469, 145), (327, 91), (185, 64), (2745, 1403), (2888, 1484), (3101, 1591),
         (3243, 1698), (3385, 1805), (3670, 2073), (3883, 2234), (4026, 2394), (4168, 2528), (4310, 2662),
         (4417, 2501), (4595, 2582), (4630, 2930), (3990, 3385), (4097, 3466), (4239, 3519), (4381, 3626),
         (4523, 3680), (4666, 3760), (4808, 3787), (4915, 3680), (5057, 3760), (5128, 3894), (5235, 3974),
         (5377, 4055), (5448, 4108), (5519, 4001), (5306, 3626), (5164, 3519), (5021, 3466), (4879, 3305),
         (4737, 3198), (4595, 3091), (4452, 2983), (4310, 2876), (4168, 2769), (4666, 3359), (4950, 3519),
         (5092, 3198), (4808, 3037), (4523, 3359), (4346, 3198), (4239, 3037), (4026, 3037), (4132, 3144),
         (4417, 3466), (4595, 3573), (4751, 3599), (3954, 3037), (3883, 2930), (3777, 2823), (3706, 2716),
         (3813, 2608), (3954, 2528), (4097, 2608), (4239, 2716), (4381, 2769), (4488, 2849), (3741, 3198),
         (3848, 3359), (3670, 2930), (2800, 1500), (2300, 1150), (1700, 700), (1200, 450), (900, 300), (650, 190),
         (400, 110), (3400, 2100), (3600, 2400), (3200, 1900), (2000, 1150), (1500, 800), (1000, 500), (3500, 2000),
         (2700, 1250), (2200, 1100), (3650, 3550), (3750, 3400), (3850, 3250), (3800, 3600)]
stem2_edge = [(300, 100), (600, 200), (850, 300), (1100, 420), (1300, 520), (1600, 700), (1800, 850), (2100, 1050),
              (2400, 1300), (2600, 1450), (2900, 1650), (3100, 1900), (3300, 2150), (3450, 2250), (3650, 2450),
              (3800, 2700), (3900, 2900), (3950, 3100), (4000, 3300), (3900, 3500), (3750, 3650), (1150, 550),
              (1400, 650), (1700, 800), (2000, 1100), (2300, 1250), (2600, 1550), (2900, 1800), (3150, 2000),
              (3350, 2300), (3550, 2500), (3700, 2800), (3800, 3700), (3900, 3800), (4000, 3600), (4100, 3700),
              (4200, 3900), (4100, 3300), (4200, 3500), (4300, 3400), (4400, 3800), (4500, 3900), (4300, 4100),
              (4600, 4200), (4700, 4000), (4150, 3150), (4050, 2900), (4250, 2950)]

M3 = r"$\left.m^{3}\right/ha$"
PER_HA = "1/ha"


def unit_label(text, unit):
    s = text + unit
    try:
        mathtext.MathTextParser("path").parse(s, 100, FontProperties(size=FS))
        return s
    except Exception:
        return text + "m³/ha"


def xy(points):
    arr = np.array(points, dtype=float)
    return arr[:, 0], arr[:, 1]


def setup(ax, xlim, ylim, xticks, yticks, xlabel, ylabel):
    ax.set_xlim(*xlim)
    ax.set_ylim(*ylim)
    ax.set_xticks(xticks)
    ax.set_yticks(yticks)
    ax.tick_params(direction="out", length=14.4, width=3.4, labelsize=FS, colors="black")
    ax.tick_params(axis="x", pad=21.6)
    ax.tick_params(axis="y", pad=29.5, labelrotation=90)
    plt.setp(ax.get_xticklabels(), va="center")
    plt.setp(ax.get_yticklabels(), ha="center", va="center")
    for sp in ax.spines.values():
        sp.set_linewidth(4.3)
    ax.set_xlabel(xlabel, fontsize=FS)
    ax.set_ylabel(ylabel, fontsize=FS)
    ax.xaxis.set_label_coords(0.5, -0.1297)
    ax.xaxis.label.set_va("center")
    ax.yaxis.set_label_coords(-0.0996, 0.5)
    ax.yaxis.label.set_va("center")
    ax.axline((0, 0), slope=1, color="black", lw=4.2, zorder=5)


def dots(ax, points, color, z=3):
    x, y = xy(points)
    ax.plot(x, y, "D", ms=10, mew=0, color=color, zorder=z)


def cloud(ax, points, color, z=2):
    x, y = xy(points)
    ax.fill(x, y, color=color, lw=0, zorder=z)


fig = plt.figure(figsize=(33.98, 33.35), dpi=100)
lefts = [0.05592, 0.55180]
bottoms = [0.72204, 0.38591, 0.04843]
W, H = 0.4316, 0.2706
axs = [[fig.add_axes([l, b, W, H]) for l in lefts] for b in bottoms]

# panel 1
ax = axs[0][0]
cloud(ax, vol1_black_core, "black")
dots(ax, vol1_black, "black")
dots(ax, vol1_black_edge, "black")
cloud(ax, vol1_green_core, GREEN, z=3.5)
dots(ax, vol1_green, GREEN, z=4)
dots(ax, vol1_green_edge, GREEN, z=4)
setup(ax, (-26.7, 705), (29.2, 383.5), range(0, 701, 100), range(50, 351, 50),
      unit_label("Volume before thinning, ", M3), unit_label("Volume after thinning, ", M3))

# panel 2
ax = axs[0][1]
cloud(ax, stem1_black_core, "black")
dots(ax, stem1_black, "black")
dots(ax, stem1_black_edge, "black")
cloud(ax, stem1_green_core, GREEN, z=3.5)
dots(ax, stem1_green, GREEN, z=4)
dots(ax, stem1_green_edge, GREEN, z=4)
setup(ax, (-409, 10597), (-184, 4598), range(0, 10001, 2000), range(0, 4001, 1000),
      "Stem number before thinning, " + PER_HA, "Stem number after thinning, " + PER_HA)

# panel 3
ax = axs[1][0]
dots(ax, vol_removal, "black")
setup(ax, (-9.9, 261), (-89.4, 265), range(0, 251, 50), range(-50, 251, 50),
      unit_label("Simulated volume removal, ", M3), unit_label("Vol0 - Vol1, ", M3))

# panel 4
ax = axs[1][1]
dots(ax, stem_removal, "black")
setup(ax, (-311, 8035), (-1620, 6663), range(0, 8001, 2000), range(0, 6001, 2000),
      "Simulated stem number removal, " + PER_HA, "N0 - N1, " + PER_HA)
clip = TransformedBbox(Bbox([[0, 0], [3377 / 3398, 1]]), fig.transFigure)
for lbl in ax.get_xticklabels():
    lbl.set_clip_on(True)
    lbl.set_clip_box(clip)

# panel 5
ax = axs[2][0]
cloud(ax, vol2_core, "black")
dots(ax, vol2, "black")
dots(ax, vol2_edge, "black")
setup(ax, (24, 703.2), (-10.8, 303.8), range(100, 701, 100), range(0, 301, 50),
      unit_label("Volume before thinning, ", M3), unit_label("Volume after thinning, ", M3))

# panel 6
ax = axs[2][1]
cloud(ax, stem2_core, "black")
dots(ax, stem2, "black")
dots(ax, stem2_edge, "black")
setup(ax, (-277, 10589), (-284, 7653), range(0, 10001, 2000), range(0, 6001, 2000),
      "Stem number before thinning, " + PER_HA, "Stem number after thinning, " + PER_HA)

fig.savefig("out.png", dpi=100, facecolor="white")
